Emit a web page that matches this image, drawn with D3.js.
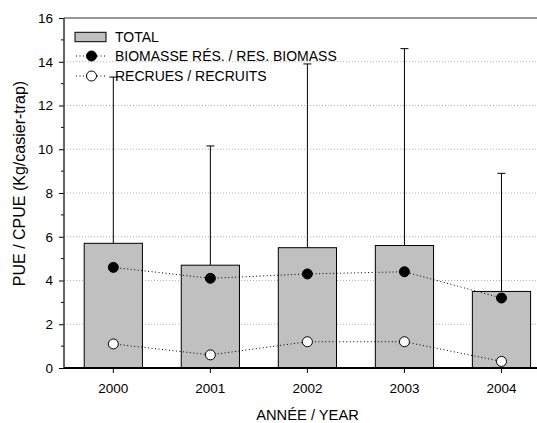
<!DOCTYPE html>
<html>
<head>
<meta charset="utf-8">
<script src="https://cdn.jsdelivr.net/npm/d3@7"></script>
<style>
  body { margin: 0; background: #fff; }
  svg { font-family: "Liberation Sans", Arial, sans-serif; }
</style>
</head>
<body>
<script>
// Data
const years = ['2000', '2001', '2002', '2003', '2004'];
const total = [5.7, 4.7, 5.5, 5.6, 3.5];
const totalUpper = [13.3, 10.15, 13.9, 14.6, 8.9];
const biomass = [4.6, 4.1, 4.3, 4.4, 3.2];
const recruits = [1.1, 0.6, 1.2, 1.2, 0.3];
const yTicks = [0, 2, 4, 6, 8, 10, 12, 14, 16];

const width = 537, height = 423;

const svg = d3.select('body')
    .append('svg')
    .attr('width', width)
    .attr('height', height);

const x = d3.scaleBand()
    .domain(years)
    .range([64.8, 550])
    .paddingInner(0.4)
    .paddingOuter(0.2);

const y = d3.scaleLinear()
    .domain([0, 16])
    .range([368, 18]);

const left = 64, right = 537;

// Gridlines
svg.append('g')
    .selectAll('line')
    .data(yTicks.filter(d => d > 0 && d < 16))
    .enter()
    .append('line')
    .attr('x1', left)
    .attr('x2', right)
    .attr('y1', d => y(d))
    .attr('y2', d => y(d))
    .attr('stroke', '#b0b0b0')
    .attr('stroke-width', 1)
    .attr('stroke-dasharray', '1,2');

// Error bars (upper only)
const err = svg.append('g');
years.forEach((yr, i) => {
    const cx = x(yr) + x.bandwidth() / 2;
    err.append('line')
        .attr('x1', cx).attr('x2', cx)
        .attr('y1', y(total[i])).attr('y2', y(totalUpper[i]))
        .attr('stroke', '#000').attr('stroke-width', 1);
    err.append('line')
        .attr('x1', cx - 4).attr('x2', cx + 4)
        .attr('y1', y(totalUpper[i])).attr('y2', y(totalUpper[i]))
        .attr('stroke', '#000').attr('stroke-width', 1);
});

// Bars
svg.append('g')
    .selectAll('rect')
    .data(total)
    .enter()
    .append('rect')
    .attr('x', (d, i) => x(years[i]))
    .attr('y', d => y(d))
    .attr('width', x.bandwidth())
    .attr('height', d => y(0) - y(d))
    .attr('fill', '#c0c0c0')
    .attr('stroke', '#000')
    .attr('stroke-width', 1);

// Lines with markers
const line = d3.line()
    .x((d, i) => x(years[i]) + x.bandwidth() / 2)
    .y(d => y(d));

function drawSeries(vals, fill) {
    svg.append('path')
        .datum(vals)
        .attr('d', line)
        .attr('fill', 'none')
        .attr('stroke', '#000')
        .attr('stroke-width', 1)
        .attr('stroke-dasharray', '1,2.5');
    svg.append('g')
        .selectAll('circle')
        .data(vals)
        .enter()
        .append('circle')
        .attr('cx', (d, i) => x(years[i]) + x.bandwidth() / 2)
        .attr('cy', d => y(d))
        .attr('r', 5)
        .attr('fill', fill)
        .attr('stroke', '#000')
        .attr('stroke-width', 1);
}
drawSeries(biomass, '#000');
drawSeries(recruits, '#fff');

// Axes
const yAxis = d3.axisLeft(y)
    .tickValues(yTicks)
    .tickSize(5)
    .tickPadding(6);
const gy = svg.append('g')
    .attr('transform', `translate(${left},0)`)
    .call(yAxis);
gy.select('.domain').remove();
gy.selectAll('text').attr('font-size', 13.5).attr('font-family', '"Liberation Sans", Arial, sans-serif');

// Minor ticks
svg.append('g')
    .selectAll('line')
    .data(d3.range(1, 16, 2))
    .enter()
    .append('line')
    .attr('x1', left - 3)
    .attr('x2', left)
    .attr('y1', d => y(d))
    .attr('y2', d => y(d))
    .attr('stroke', '#000');

const xAxis = d3.axisBottom(x)
    .tickSize(5)
    .tickPadding(10.5);
const gx = svg.append('g')
    .attr('transform', `translate(0,${y(0)})`)
    .call(xAxis);
gx.select('.domain').remove();
gx.selectAll('text').attr('font-size', 13.5).attr('font-family', '"Liberation Sans", Arial, sans-serif');

// Frame lines
svg.append('line').attr('x1', left).attr('x2', right).attr('y1', y(0)).attr('y2', y(0)).attr('stroke', '#000').attr('stroke-width', 1.8);
svg.append('line').attr('x1', left).attr('x2', right).attr('y1', y(16)).attr('y2', y(16)).attr('stroke', '#333').attr('stroke-width', 1.2);
svg.append('line').attr('x1', left).attr('x2', left).attr('y1', y(16)).attr('y2', y(0)).attr('stroke', '#333').attr('stroke-width', 1.5);

// Axis titles
svg.append('text')
    .attr('x', 307.5)
    .attr('y', 420)
    .attr('text-anchor', 'middle')
    .attr('font-size', 14.7)
    .text('ANNÉE / YEAR');

svg.append('text')
    .attr('transform', 'translate(25,183.5) rotate(-90)')
    .attr('text-anchor', 'middle')
    .attr('font-size', 16)
    .text('PUE / CPUE (Kg/casier-trap)');

// Legend
const legend = svg.append('g');
legend.append('rect')
    .attr('x', 75).attr('y', 32.3)
    .attr('width', 31).attr('height', 9.4)
    .attr('fill', '#c0c0c0').attr('stroke', '#000');
const legendItems = [
    { label: 'TOTAL', cy: 37 },
    { label: 'BIOMASSE RÉS. / RES. BIOMASS', cy: 56, fill: '#000' },
    { label: 'RECRUES / RECRUITS', cy: 76, fill: '#fff' }
];
legendItems.forEach(it => {
    if (it.fill) {
        legend.append('line')
            .attr('x1', 76).attr('x2', 106)
            .attr('y1', it.cy).attr('y2', it.cy)
            .attr('stroke', '#000').attr('stroke-dasharray', '1,2.5');
        legend.append('circle')
            .attr('cx', 91.5).attr('cy', it.cy).attr('r', 5)
            .attr('fill', it.fill).attr('stroke', '#000');
    }
    legend.append('text')
        .attr('x', 115).attr('y', it.cy)
        .attr('dy', '0.36em')
        .attr('font-size', 14)
        .text(it.label);
});
</script>
</body>
</html>
